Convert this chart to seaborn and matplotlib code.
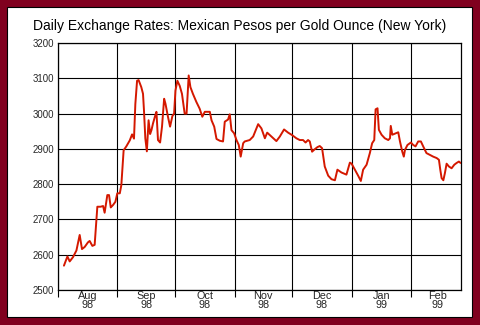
import numpy as np
import pandas as pd
import matplotlib
matplotlib.use("Agg")
import matplotlib.pyplot as plt
import matplotlib.dates as mdates
from matplotlib.patches import Rectangle
import seaborn as sns

# ---- data (day offset from 1998-08-01, pesos per gold ounce) ----
start_date = "1998-08-01"
days = [3.1, 4.9, 6.1, 7.8, 9.6, 11.3, 12.5, 13.9, 15.6, 16.5, 17.9, 19.1, 20.5, 22.2,
        23.5, 24.3, 25.7, 26.6, 27.5, 28.7, 29.9, 30.9, 32.2, 33.0, 34.2, 35.6, 37.4,
        38.6, 39.6, 40.3, 41.2, 42.0, 43.4, 44.3, 44.8, 45.5, 46.3, 47.2, 48.0, 48.7,
        49.5, 50.7, 51.3, 52.1, 53.2, 54.2, 55.3, 56.0, 57.3, 58.4, 59.6, 60.5, 61.2,
        62.2, 63.4, 64.6, 66.0, 67.0, 68.1, 69.0, 70.3, 72.1, 73.8, 75.2, 76.5, 79.1,
        80.0, 81.4, 82.6, 84.3, 86.0, 86.9, 88.6, 89.5, 90.4, 91.8, 93.0, 94.2, 95.2,
        96.5, 97.3, 99.9, 101.7, 104.3, 106.0, 107.8, 109.0, 111.2, 113.8, 115.6, 117.8,
        119.9, 122.0, 124.2, 126.0, 127.7, 129.0, 130.3, 131.2, 132.4, 133.8, 135.2,
        136.4, 137.6, 139.0, 140.8, 142.5, 144.3, 145.6, 147.7, 150.3, 152.1, 153.0,
        154.7, 156.4, 157.8, 159.0, 160.8, 162.5, 163.7, 164.8, 165.5, 166.5, 167.2,
        168.6, 170.3, 172.1, 173.0, 173.4, 174.2, 175.9, 177.3, 178.2, 179.4, 180.2,
        180.8, 182.1, 183.9, 185.1, 186.3, 187.7, 189.1, 190.3, 192.0, 193.8, 195.5,
        197.3, 198.5, 199.2, 199.9, 200.8, 201.6, 202.5, 203.7, 205.1, 206.5, 207.7,
        208.9, 209.8]
rates = [2569, 2595, 2581, 2593, 2612, 2656, 2616, 2622, 2635, 2639, 2625, 2628, 2736, 2736,
         2738, 2719, 2769, 2769, 2734, 2741, 2750, 2774, 2774, 2797, 2896, 2907, 2924,
         2941, 2929, 3027, 3093, 3095, 3075, 3056, 3009, 2930, 2893, 2981, 2942, 2953,
         2972, 2995, 3005, 2925, 2918, 2963, 3042, 3028, 2991, 2963, 2993, 3000, 3065,
         3093, 3079, 3056, 3000, 3000, 3108, 3075, 3056, 3033, 3014, 2991, 3005, 3005,
         2981, 2963, 2928, 2923, 2921, 2977, 2983, 2998, 2953, 2944, 2925, 2911, 2878,
         2916, 2921, 2925, 2935, 2970, 2958, 2930, 2946, 2935, 2922, 2935, 2955,
         2946, 2939, 2930, 2925, 2925, 2918, 2925, 2921, 2892, 2899, 2905,
         2908, 2902, 2850, 2824, 2814, 2811, 2841, 2833, 2827, 2861, 2858,
         2841, 2824, 2809, 2841, 2855, 2888, 2916, 2925, 3012, 3015, 2954,
         2940, 2930, 2925, 2930, 2965, 2940, 2944, 2947, 2921, 2892, 2878,
         2897, 2911, 2918, 2911, 2907, 2921, 2921, 2907, 2888, 2883, 2878,
         2874, 2869, 2841, 2817, 2811, 2831, 2858, 2850, 2845, 2855, 2860,
         2864, 2860]
month_labels = ["Aug\n98", "Sep\n98", "Oct\n98", "Nov\n98", "Dec\n98", "Jan\n99", "Feb\n99"]
y_ticks = [2500, 2600, 2700, 2800, 2900, 3000, 3100, 3200]
title = "Daily Exchange Rates: Mexican Pesos per Gold Ounce (New York)"

# ---- build frame ----
t0 = pd.Timestamp(start_date)
df = pd.DataFrame({
    "date": t0 + pd.to_timedelta(days, unit="D"),
    "rate": rates,
})

sns.set_style("white")
plt.rcParams["font.family"] = ["Liberation Sans", "DejaVu Sans"]

fig = plt.figure(figsize=(4.8, 3.25), dpi=100, facecolor="#80001f")
W, H = 480.0, 325.0
panel = Rectangle((7 / W, 1 - 317 / H), (472 - 7) / W, (317 - 7) / H,
                  transform=fig.transFigure, facecolor="white",
                  edgecolor="black", linewidth=0.8, zorder=-5)
fig.patches.append(panel)

ax = fig.add_axes([58 / W, 1 - 290 / H, (461 - 58) / W, (290 - 43) / H])
ax.set_zorder(2)
ax.set_facecolor("white")

sns.lineplot(data=df, x="date", y="rate", ax=ax, color="#d41800",
             linewidth=1.4, zorder=3)

month_starts = pd.date_range("1998-08-01", "1999-02-01", freq="MS")
month_ends = pd.date_range("1998-09-01", "1999-03-01", freq="MS")
mids = [s + (e - s) / 2 for s, e in zip(month_starts, month_ends)]

ax.set_xlim(t0, t0 + pd.Timedelta(days=210))
ax.set_ylim(y_ticks[0], y_ticks[-1])

ax.set_xticks(list(month_starts))
ax.set_xticklabels([])
ax.set_xticks(mids, minor=True)
ax.set_xticklabels(month_labels, minor=True, fontsize=7.8, linespacing=0.78)
ax.tick_params(axis="x", which="major", length=5, width=0.8, color="black",
               direction="out", bottom=True)
ax.tick_params(axis="x", which="minor", length=0, pad=1.0)

ax.set_yticks(y_ticks)
ax.set_yticklabels([str(v) for v in y_ticks], fontsize=6.9)
ax.tick_params(axis="y", length=0, pad=3)

ax.grid(True, which="major", color="black", linewidth=0.8)
ax.set_axisbelow(True)
for s in ax.spines.values():
    s.set_color("black")
    s.set_linewidth(0.9)
    s.set_visible(True)

ax.set_xlabel("")
ax.set_ylabel("")
fig.text(0.5, 1 - 26 / H, title, ha="center", va="center", fontsize=10,
         color="black", zorder=5)

fig.savefig("out.png", dpi=100, facecolor=fig.get_facecolor())
